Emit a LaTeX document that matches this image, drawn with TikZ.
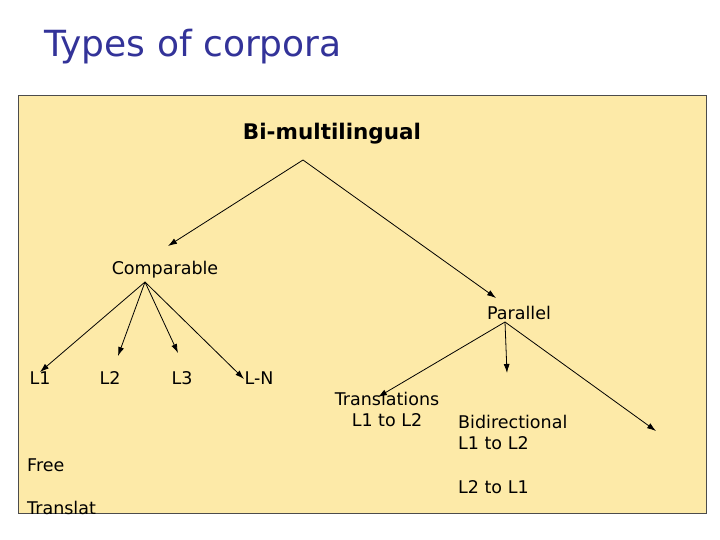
\documentclass[tikz,border=0pt]{standalone}
\usepackage{fontspec}
\setmainfont{DejaVu Sans}
\usetikzlibrary{arrows.meta}
\definecolor{bg}{HTML}{FDEAA8}
\definecolor{tt}{HTML}{333399}
\begin{document}
\begin{tikzpicture}[x=1pt,y=-1pt,
  lbl/.style={inner sep=0pt,font=\fontsize{17.5}{21}\selectfont},
  arr/.style={-{Latex[length=9pt,width=6pt]},line width=0.8pt}]
\useasboundingbox (0,0) rectangle (720,540);
\fill[white] (0,0) rectangle (720,540);
\node[anchor=west,inner sep=0pt,text=tt,font=\fontsize{36}{42}\selectfont] (title) at (44,47) {Types of corpora};
\draw[fill=bg,draw=black!70,line width=0.8pt] (18,95) rectangle (706,513);
\node[lbl,font=\bfseries\fontsize{21.5}{25}\selectfont] (bi) at (332,134) {Bi-multilingual};
\coordinate (biA) at (303,160);
\node[lbl] (comp) at (165,270) {Comparable};
\node[lbl] (par) at (519,313) {Parallel};
\coordinate (cA) at (145,282);
\coordinate (pA) at (505,322);
\coordinate (cT) at (168,246);
\coordinate (pT) at (496,298);
\draw[arr] (biA) -- (cT);
\draw[arr] (biA) -- (pT);
\node[lbl] (l1) at (40,378) {L1};
\node[lbl] (l2) at (110,378) {L2};
\node[lbl] (l3) at (182,378) {L3};
\node[lbl] (ln) at (259,378) {L-N};
\coordinate (t1) at (40,372);
\coordinate (t2) at (118,356);
\coordinate (t3) at (178,353);
\coordinate (t4) at (244,379);
\draw[arr] (cA) -- (t1);
\draw[arr] (cA) -- (t2);
\draw[arr] (cA) -- (t3);
\draw[arr] (cA) -- (t4);
\coordinate (p1) at (378,397);
\coordinate (p2) at (507,373);
\coordinate (p3) at (656,431);
\draw[arr] (pA) -- (p1);
\draw[arr] (pA) -- (p2);
\draw[arr] (pA) -- (p3);
\node[lbl,align=center] (tr) at (387,409) {Translations\\L1 to L2};
\node[lbl,align=left,anchor=west] (bd) at (458,432) {Bidirectional\\L1 to L2};
\node[lbl,anchor=west] (l21) at (458,487) {L2 to L1};
\node[lbl,anchor=west] (free) at (27,465) {Free};
\node[lbl,anchor=west] (trl) at (27,508) {Translat};
\end{tikzpicture}
\end{document}
